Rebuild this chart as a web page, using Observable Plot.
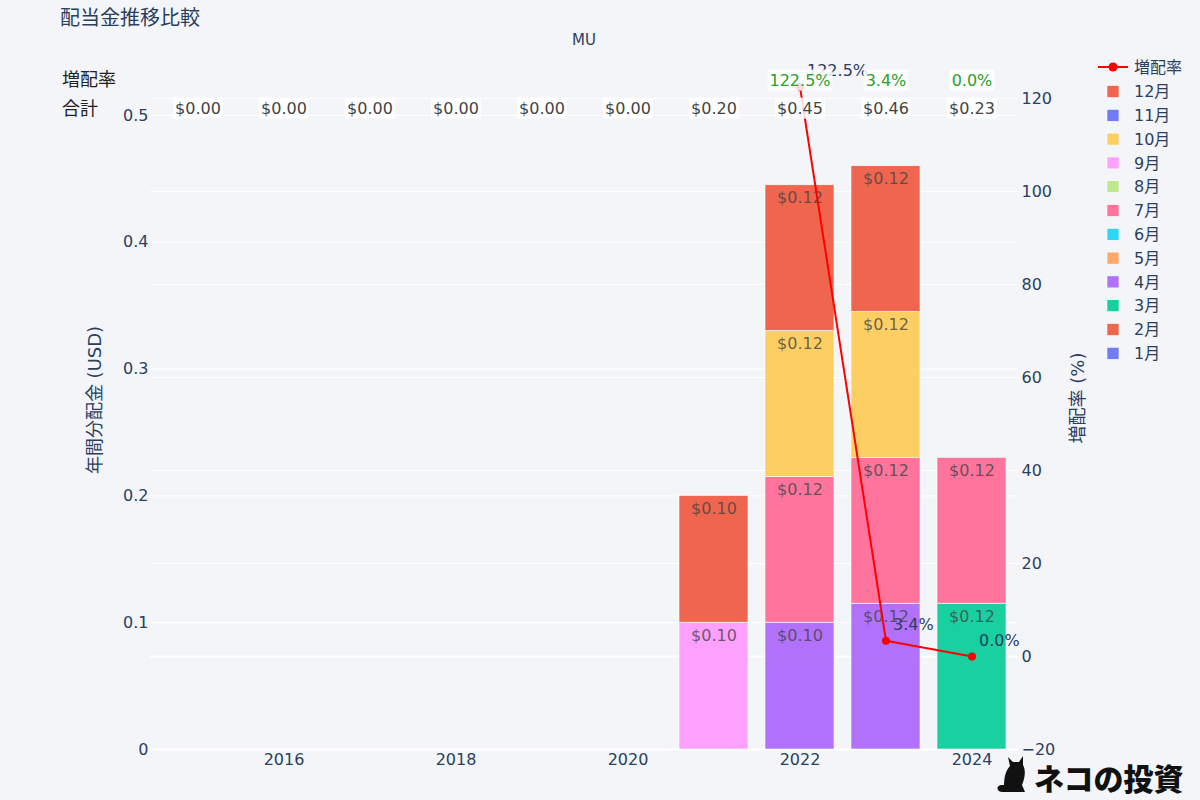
<!DOCTYPE html>
<html>
<head>
<meta charset="utf-8">
<script src="https://cdn.jsdelivr.net/npm/d3@7"></script>
<script src="https://cdn.jsdelivr.net/npm/@observablehq/plot@0.6"></script>
<style>
  html, body { margin: 0; padding: 0; background: #F4F5F9; }
  #wrap { position: relative; width: 1200px; height: 800px; background: #F4F5F9; overflow: hidden; }
  #wrap svg { position: absolute; left: 0; top: 0; }
  #overlay { pointer-events: none; }
</style>
</head>
<body>
<div id="wrap"></div>
<script>
// ---------- data ----------
const years = [2015, 2016, 2017, 2018, 2019, 2020, 2021, 2022, 2023, 2024];
const tickYears = [2016, 2018, 2020, 2022, 2024];
const months = ["1月","2月","3月","4月","5月","6月","7月","8月","9月","10月","11月","12月"];
const monthColors = ["#636EFA","#EF553B","#00CC96","#AB63FA","#FFA15A","#19D3F3","#FF6692","#B6E880","#FF97FF","#FECB52","#636EFA","#EF553B"];

// dividend segments (year, month, amount USD)
const segYears  = [2021, 2021, 2022, 2022, 2022, 2022, 2023, 2023, 2023, 2023, 2024, 2024];
const segMonths = ["9月","12月","4月","7月","10月","12月","4月","7月","10月","12月","3月","7月"];
const segValues = [0.10, 0.10, 0.10, 0.115, 0.115, 0.115, 0.115, 0.115, 0.115, 0.115, 0.115, 0.115];

// annual totals (as labelled above the plot)
const totals = [0, 0, 0, 0, 0, 0, 0.20, 0.445, 0.46, 0.23];

// dividend growth rate (%)
const growthYears  = [2022, 2023, 2024];
const growthValues = [122.5, 3.4, 0.0];

// axis ticks
const leftTicks  = [0, 0.1, 0.2, 0.3, 0.4, 0.5];
const rightTicks = [-20, 0, 20, 40, 60, 80, 100, 120];

// ---------- helpers ----------
const fmtUSD = v => "$" + (Math.round(v * 100 + 1e-9) / 100).toFixed(2);
const fmtPct = v => v.toFixed(1) + "%";
// right axis (growth %) expressed in left-axis units: -20 -> 0, 120 -> 0.5134
const K = 272.7;
const toLeft = r => (r + 20) / K;
const fromLeft = v => Math.round(v * K - 20);

const segs = segYears.map((y, i) => ({year: y, month: segMonths[i], value: segValues[i]}));
const totalData = years.map((y, i) => ({year: y, total: totals[i]}));
const growth = growthYears.map((y, i) => ({year: y, g: growthValues[i]}));

const FONT = '"DejaVu Sans", "Noto Sans CJK JP", sans-serif';
const INK = "#2a3f5f";

const chart = Plot.plot({
  width: 1200,
  height: 800,
  marginLeft: 150,
  marginRight: 182,
  marginTop: 60,
  marginBottom: 51,
  style: {background: "transparent", fontFamily: FONT, fontSize: "16px", color: INK},
  x: {type: "band", domain: years, range: [154, 1014], paddingInner: 0.2, paddingOuter: 0.1, axis: null},
  y: {domain: [0, 0.5434], range: [749, 60], axis: null},
  color: {domain: months, range: monthColors},
  marks: [
    Plot.gridY(leftTicks.filter(d => d !== 0), {stroke: "white", strokeOpacity: 1, strokeWidth: 1}),
    Plot.gridY(rightTicks.filter(d => d !== 0 && d !== -20).map(toLeft), {stroke: "white", strokeOpacity: 1, strokeWidth: 1}),
    Plot.gridY([0, toLeft(0)], {stroke: "white", strokeOpacity: 1, strokeWidth: 2}),
    Plot.barY(segs, {x: "year", y: "value", fill: "month", z: "month", order: months, fillOpacity: 0.9, stroke: "white", strokeWidth: 0.6}),
    Plot.text(segs, Plot.stackY2({x: "year", y: "value", z: "month", order: months, text: d => fmtUSD(d.value), dy: 13, fill: "#444", fillOpacity: 0.8, fontSize: 16})),
    Plot.line(growth, {x: "year", y: d => toLeft(d.g), stroke: "red", strokeWidth: 2}),
    Plot.dot(growth, {x: "year", y: d => toLeft(d.g), r: 4, fill: "red", stroke: "none"}),
    Plot.text(growth, {x: "year", y: d => toLeft(d.g), text: d => fmtPct(d.g), textAnchor: "start", dx: 7, dy: -16, fill: INK, fontSize: 16}),
    Plot.text(totalData, {x: "year", frameAnchor: "top", lineAnchor: "middle", dy: 48, text: d => fmtUSD(d.total), fill: "#444", fontSize: 16, className: "boxed"}),
    Plot.text(growth, {x: "year", frameAnchor: "top", lineAnchor: "middle", dy: 20, text: d => fmtPct(d.g), fill: "#2ca02c", fontSize: 16, className: "boxed"}),
    Plot.axisX(tickYears, {tickSize: 0, tickPadding: 4, fontSize: 16, label: null, tickFormat: d => String(d), fill: INK}),
    Plot.axisY(leftTicks, {anchor: "left", tickSize: 0, tickPadding: 2, fontSize: 16, label: null, tickFormat: d => d === 0 ? "0" : d.toFixed(1), fill: INK}),
    Plot.axisY(rightTicks.map(toLeft), {anchor: "right", tickSize: 0, tickPadding: 3, fontSize: 16, label: null, tickFormat: d => String(fromLeft(d)).replace("-", "\u2212"), fill: INK})
  ]
});

const wrap = document.getElementById("wrap");
wrap.appendChild(chart);

// white boxes behind the annotation texts
chart.querySelectorAll("g.boxed text").forEach(t => {
  const b = t.getBBox();
  const r = document.createElementNS("http://www.w3.org/2000/svg", "rect");
  r.setAttribute("x", b.x - 2);
  r.setAttribute("y", b.y - 1);
  r.setAttribute("width", b.width + 4);
  r.setAttribute("height", b.height + 2);
  r.setAttribute("fill", "white");
  r.setAttribute("fill-opacity", "0.85");
  const tr = t.getAttribute("transform");
  if (tr) r.setAttribute("transform", tr);
  t.parentNode.insertBefore(r, t);
});

// ---------- overlay: titles, legend, logo ----------
const ov = d3.select(wrap).append("svg")
  .attr("id", "overlay").attr("width", 1200).attr("height", 800)
  .style("font-family", FONT);

ov.append("text").attr("x", 60).attr("y", 25).attr("font-size", 20).attr("fill", INK).text("配当金推移比較");
ov.append("text").attr("x", 584).attr("y", 45).attr("text-anchor", "middle").attr("font-size", 15).attr("fill", INK).text("MU");
ov.append("text").attr("x", 62).attr("y", 86).attr("font-size", 18).attr("fill", "#222").text("増配率");
ov.append("text").attr("x", 62).attr("y", 115).attr("font-size", 18).attr("fill", "#222").text("合計");

ov.append("text").attr("transform", "translate(101,400) rotate(-90)").attr("text-anchor", "middle")
  .attr("font-size", 18).attr("fill", INK).text("年間分配金 (USD)");
ov.append("text").attr("transform", "translate(1084,398) rotate(-90)").attr("text-anchor", "middle")
  .attr("font-size", 18).attr("fill", INK).text("増配率 (%)");

// legend
const lg = ov.append("g");
lg.append("line").attr("x1", 1098).attr("x2", 1128).attr("y1", 67).attr("y2", 67).attr("stroke", "red").attr("stroke-width", 2);
lg.append("circle").attr("cx", 1113).attr("cy", 67).attr("r", 4.5).attr("fill", "red");
lg.append("text").attr("x", 1134).attr("y", 67).attr("dy", "0.35em").attr("font-size", 16).attr("fill", INK).text("増配率");
months.slice().reverse().forEach((m, i) => {
  const y = 91.5 + i * 23.8;
  lg.append("rect").attr("x", 1107).attr("y", y - 6).attr("width", 12).attr("height", 12)
    .attr("fill", monthColors[months.indexOf(m)]).attr("fill-opacity", 0.9).attr("stroke", "white").attr("stroke-width", 0.6);
  lg.append("text").attr("x", 1134).attr("y", y).attr("dy", "0.35em").attr("font-size", 16).attr("fill", INK).text(m);
});

// logo
const logo = ov.append("g");
logo.append("path").attr("fill", "#111")
  .attr("d", "M1003,792 C996,792 996,786 1001,785 L1004,785 C1004,777 1006,770 1010,766 L1008,757 L1013,762 L1019,762 L1023,756 L1023,765 C1026,770 1025,778 1022,785 L1025,792 Z");
logo.append("text").attr("x", 1034).attr("y", 790).attr("font-size", 30).attr("font-weight", 900)
  .attr("font-family", '"Noto Sans CJK JP", sans-serif').attr("fill", "#111").text("ネコの投資");
</script>
</body>
</html>
